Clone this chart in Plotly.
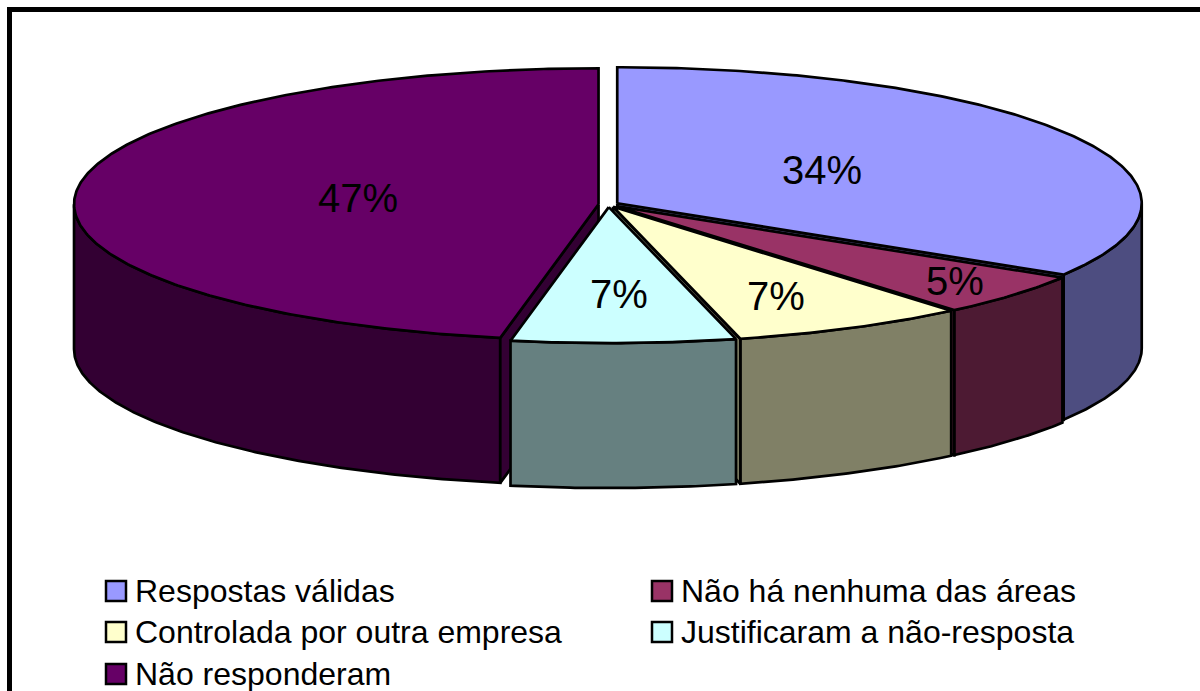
import numpy as np
import plotly.graph_objects as go

categories = ["Respostas válidas", "Não há nenhuma das áreas", "Controlada por outra empresa",
              "Justificaram a não-resposta", "Não responderam"]
values = [33.8, 5.05, 7.25, 6.9, 47.0]
top_colors = ["#9999FF", "#993366", "#FFFFCC", "#CCFFFF", "#660066"]
side_colors = ["#4D4D80", "#4D1A33", "#808066", "#668080", "#330033"]
label_pos = [(822, 170), (955, 281), (776, 296), (619, 294), (358, 198)]
legend_pos = [(116, 591), (662, 591), (116, 632), (662, 632), (116, 674)]

CX, CY, RX, RY, DEPTH, EXPLODE = 608.5, 204.5, 524.5, 136, 145, 10
LW = 2.7


def pt(th_deg, cx, cy, depth=0.0):
    t = np.radians(th_deg)
    return cx + RX * np.sin(t), cy - RY * np.cos(t) + depth


def arc(a, b, cx, cy, depth=0.0):
    n = max(2, int(abs(b - a) * 2) + 1)
    return pt(np.linspace(a, b, n), cx, cy, depth)


fig = go.Figure()


def poly(xs, ys, color):
    fig.add_trace(go.Scatter(x=list(xs), y=list(ys), mode="lines", fill="toself", fillcolor=color,
                             line=dict(color="black", width=LW), hoverinfo="skip", showlegend=False))


total = sum(values)
edges = np.concatenate([[0], np.cumsum(values)]) * 360.0 / total
slices = []
for i in range(len(values)):
    a, b = edges[i], edges[i + 1]
    m = np.radians((a + b) / 2)
    cx = CX + EXPLODE * np.sin(m)
    cy = CY - EXPLODE * RY / RX * np.cos(m)
    slices.append((i, a, b, cx, cy))

# painter's order: the large back slice first, then clockwise from the top
for i, a, b, cx, cy in [slices[4]] + slices[:4]:
    # outer wall: only the front half of the rim faces the viewer
    lo, hi = max(a, 90), min(b, 270)
    if hi > lo:
        xt, yt = arc(lo, hi, cx, cy)
        xb, yb = arc(lo, hi, cx, cy, DEPTH)
        poly(np.r_[xt, xb[::-1], xt[0]], np.r_[yt, yb[::-1], yt[0]], side_colors[i])
    # radial cut faces turned to the viewer
    for th, visible in ((b, np.sin(np.radians(b)) > 0.01), (a, np.sin(np.radians(a)) < -0.01)):
        if visible:
            xr, yr = pt(th, cx, cy)
            poly([cx, xr, xr, cx, cx], [cy, yr, yr + DEPTH, cy + DEPTH, cy], side_colors[i])
    # top face
    xa, ya = arc(a, b, cx, cy)
    poly(np.r_[cx, xa, cx], np.r_[cy, ya, cy], top_colors[i])

annotations = []
for v, (x, y) in zip(values, label_pos):
    annotations.append(dict(x=x, y=y, xref="x", yref="y", text=f"{round(v)}%", showarrow=False,
                            xanchor="center", yanchor="middle",
                            font=dict(family="Liberation Sans", size=40, color="black")))
for name, (x, y) in zip(categories, legend_pos):
    annotations.append(dict(x=x + 17, y=y, xref="x", yref="y", text=name, showarrow=False,
                            xanchor="left", yanchor="middle",
                            font=dict(family="Liberation Sans", size=32, color="black")))

fig.add_trace(go.Scatter(x=[p[0] for p in legend_pos], y=[p[1] for p in legend_pos], mode="markers",
                         marker=dict(symbol="square", size=20, color=top_colors,
                                     line=dict(color="black", width=2.5)),
                         hoverinfo="skip", showlegend=False))

fig.update_layout(
    width=1200, height=691, autosize=False,
    margin=dict(l=0, r=0, t=0, b=0),
    paper_bgcolor="white", plot_bgcolor="white", showlegend=False,
    xaxis=dict(range=[0, 1200], visible=False, fixedrange=True),
    yaxis=dict(range=[691, 0], visible=False, fixedrange=True),
    annotations=annotations,
    shapes=[dict(type="rect", xref="x", yref="y", x0=9.5, y0=9.5, x1=1230, y1=720,
                 line=dict(color="black", width=5), layer="below")],
)
fig.write_html("out.html", config={"displayModeBar": False},
               post_script="document.body.style.margin='0';document.body.style.overflow='hidden';")
